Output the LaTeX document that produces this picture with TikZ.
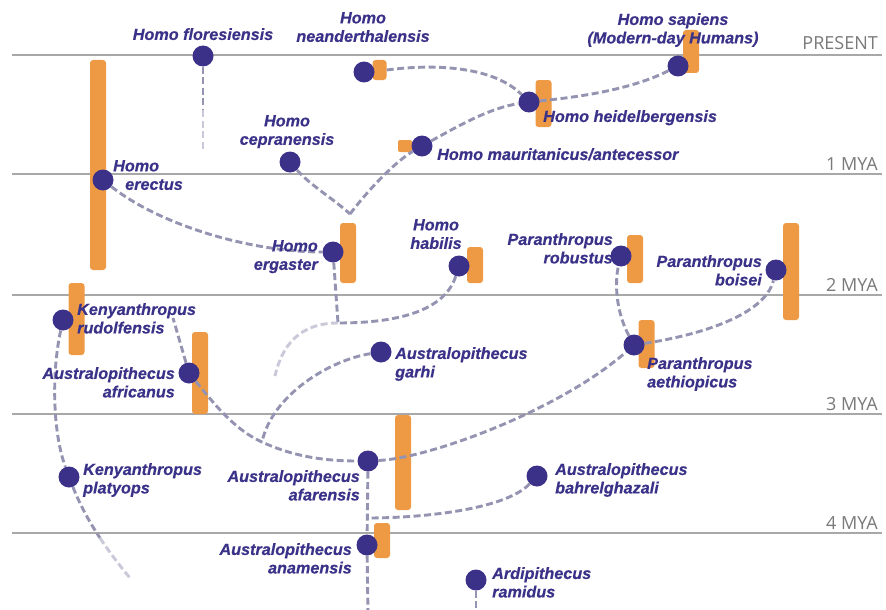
\documentclass[tikz,border=0pt]{standalone}
\usepackage{fontspec}
\newfontfamily\labfont[FakeBold=0.4]{Liberation Sans}
\newfontfamily\axisfont{Open Sans}
\pgfdeclarelayer{grid}
\pgfdeclarelayer{bars}
\pgfdeclarelayer{links}
\pgfsetlayers{grid,bars,links,main}
\definecolor{ink}{HTML}{3A3288}
\definecolor{dotc}{HTML}{3B3189}
\definecolor{barc}{HTML}{EE9A45}
\definecolor{linkc}{HTML}{9494B2}
\definecolor{gridc}{HTML}{A8A8A8}
\definecolor{axisc}{HTML}{7A7A7A}
\tikzset{
 dot/.style={circle, fill=dotc, minimum size=21pt, inner sep=0},
 bar/.style={rectangle, fill=barc, rounded corners=3pt, inner sep=0, minimum width=16pt},
 link/.style={draw=linkc, line width=2.9pt, dash pattern=on 7pt off 3.5pt},
 fadelink/.style={link, draw=linkc!50},
 lab/.style={inner sep=0, text=ink, font=\labfont\bfseries\itshape\fontsize{16.2}{18.5}\selectfont},
 axislab/.style={inner sep=0, text=axisc, font=\axisfont\fontsize{18}{20}\selectfont, anchor=base east},
 gridline/.style={draw=gridc, line width=1.4pt},
}
\begin{document}
\begin{tikzpicture}[x=1pt,y=-1pt]
\useasboundingbox (0,0) rectangle (886,610);

% time grid
\begin{pgfonlayer}{grid}
\fill[white] (0,0) rectangle (886,610);
\draw[gridline] (12,55) -- (882,55);
\draw[gridline] (12,174) -- (882,174);
\draw[gridline] (12,295) -- (882,295);
\draw[gridline] (12,414) -- (882,414);
\draw[gridline] (12,533) -- (882,533);
\end{pgfonlayer}
\node[axislab] (aP) at (878,49) {PRESENT};
\node[axislab] (a1) at (878,170) {1 MYA};
\node[axislab] (a2) at (878,291) {2 MYA};
\node[axislab] (a3) at (878,410) {3 MYA};
\node[axislab] (a4) at (878,529) {4 MYA};

% dots
\node[dot] (fl) at (203,56) {};
\node[dot] (ne) at (364,72) {};
\node[dot] (sa) at (678,66) {};
\node[dot] (he) at (529,102) {};
\node[dot] (ma) at (422,146) {};
\node[dot] (ce) at (290,162) {};
\node[dot] (er) at (103,180) {};
\node[dot] (eg) at (333,252) {};
\node[dot] (ha) at (459,266) {};
\node[dot] (ro) at (621,256) {};
\node[dot] (bo) at (776,270) {};
\node[dot] (ae) at (634,345) {};
\node[dot] (ru) at (63,320) {};
\node[dot] (af) at (189,373) {};
\node[dot] (ga) at (381,352) {};
\node[dot] (pl) at (69,477) {};
\node[dot] (fa) at (368,461) {};
\node[dot] (bg) at (537,476) {};
\node[dot] (an) at (367,545) {};
\node[dot] (ar) at (476,580) {};

% bars
\begin{pgfonlayer}{bars}
\node[bar, minimum height=210pt] (bEr) at (98,165) {};
\node[bar, minimum width=14pt, minimum height=20pt] (bNe) at (379.5,70) {};
\node[bar, minimum height=43pt] (bSa) at (691,51.5) {};
\node[bar, minimum height=47pt] (bHe) at (543.5,103.5) {};
\node[bar, minimum width=14pt, minimum height=12pt, rounded corners=2pt] (bMa) at (405,146) {};
\node[bar, minimum height=60pt] (bEg) at (348,253) {};
\node[bar, minimum height=36pt] (bHa) at (475,265) {};
\node[bar, minimum height=48pt] (bRo) at (635,259) {};
\node[bar, minimum height=97pt] (bBo) at (791,271.5) {};
\node[bar, minimum height=48pt] (bAe) at (646.5,344) {};
\node[bar, minimum height=72pt] (bRu) at (76.5,319) {};
\node[bar, minimum height=82pt] (bAf) at (200,373) {};
\node[bar, minimum height=95pt] (bFa) at (403,462.5) {};
\node[bar, minimum height=35pt] (bAn) at (382,540.5) {};
\end{pgfonlayer}

% junctions and free ends
\coordinate (jEg) at (350,214);
\coordinate (jHab) at (338,323);
\coordinate (jAf) at (262,442);
\coordinate (jStem) at (368,518);
\coordinate (flMid) at (203,110);
\coordinate (flEnd) at (203,152);
\coordinate (haEnd) at (275,376);
\coordinate (ruEnd) at (173,318);
\coordinate (plMid) at (100,538);
\coordinate (plEnd) at (130,578);
\coordinate (anEnd) at (368,614);
\coordinate (arEnd) at (476,614);

% links
\begin{pgfonlayer}{links}
\draw[link] (fl) -- (flMid);
\draw[fadelink] (flMid) -- (flEnd);
\draw[link] (bNe.east) .. controls (440,63) and (495,68) .. (he);
\draw[link] (he) .. controls (600,95) and (640,85) .. (sa);
\draw[link] (ma) .. controls (460,125) and (490,108) .. (he);
\draw[link] (jEg) .. controls (372,185) and (398,160) .. (ma);
\draw[link] (ce) .. controls (310,185) and (335,200) .. (jEg);
\draw[link] (er) .. controls (160,225) and (250,252) .. (eg);
\draw[link] (eg) -- (jHab);
\draw[link] (ha) .. controls (445,310) and (400,323) .. (jHab);
\draw[fadelink] (jHab) .. controls (300,323) and (282,345) .. (haEnd);
\draw[link] (ga) .. controls (330,360) and (272,395) .. (jAf);
\draw[link] (af) .. controls (215,405) and (235,430) .. (jAf) .. controls (290,455) and (320,461) .. (fa);
\draw[link] (af) -- (ruEnd);
\draw[link] (ru) .. controls (52,370) and (52,430) .. (pl);
\draw[link] (pl) .. controls (80,505) and (90,523) .. (plMid);
\draw[fadelink] (plMid) .. controls (110,553) and (120,566) .. (plEnd);
\draw[link] (fa) .. controls (430,458) and (560,410) .. (ae);
\draw[link] (ae) .. controls (615,310) and (615,280) .. (ro);
\draw[link] (ae) .. controls (700,335) and (765,315) .. (bo);
\draw[link] (fa) -- (an);
\draw[link] (an) -- (anEnd);
\draw[link] (bg) .. controls (505,510) and (420,518) .. (jStem);
\draw[link] (ar) -- (arEnd);
\end{pgfonlayer}

% labels
\node[lab, anchor=north, align=center] (tFl) at (203,28) {Homo floresiensis};
\node[lab, anchor=north, align=center] (tNe) at (363,12) {Homo\\neanderthalensis};
\node[lab, anchor=north, align=center] (tSa) at (673,13) {Homo sapiens\\(Modern-day Humans)};
\node[lab, anchor=north west] (tHe) at (543,110) {Homo heidelbergensis};
\node[lab, anchor=north west] (tMa) at (437,148) {Homo mauritanicus/antecessor};
\node[lab, anchor=north, align=center] (tCe) at (287,115) {Homo\\cepranensis};
\node[lab, anchor=north west, align=left] (tEr) at (113,160) {Homo\\\hspace*{12pt}erectus};
\node[lab, anchor=north east, align=right] (tEg) at (318,240) {Homo\\ergaster};
\node[lab, anchor=north, align=center] (tHa) at (436,219) {Homo\\habilis};
\node[lab, anchor=north east, align=right] (tRo) at (613,233) {Paranthropus\\robustus};
\node[lab, anchor=north east, align=right] (tBo) at (762,255) {Paranthropus\\boisei};
\node[lab, anchor=north west, align=left] (tAe) at (647,357) {Paranthropus\\aethiopicus};
\node[lab, anchor=north west, align=left] (tRu) at (77,303) {Kenyanthropus\\rudolfensis};
\node[lab, anchor=north east, align=right] (tAf) at (175,367) {Australopithecus\\africanus};
\node[lab, anchor=north west, align=left] (tGa) at (395,347) {Australopithecus\\garhi};
\node[lab, anchor=north west, align=left] (tPl) at (83,463) {Kenyanthropus\\platyops};
\node[lab, anchor=north east, align=right] (tFa) at (360,470) {Australopithecus\\afarensis};
\node[lab, anchor=north west, align=left] (tBg) at (555,463) {Australopithecus\\bahrelghazali};
\node[lab, anchor=north east, align=right] (tAn) at (352,543) {Australopithecus\\anamensis};
\node[lab, anchor=north west, align=left] (tAr) at (492,567) {Ardipithecus\\ramidus};
\end{tikzpicture}
\end{document}
